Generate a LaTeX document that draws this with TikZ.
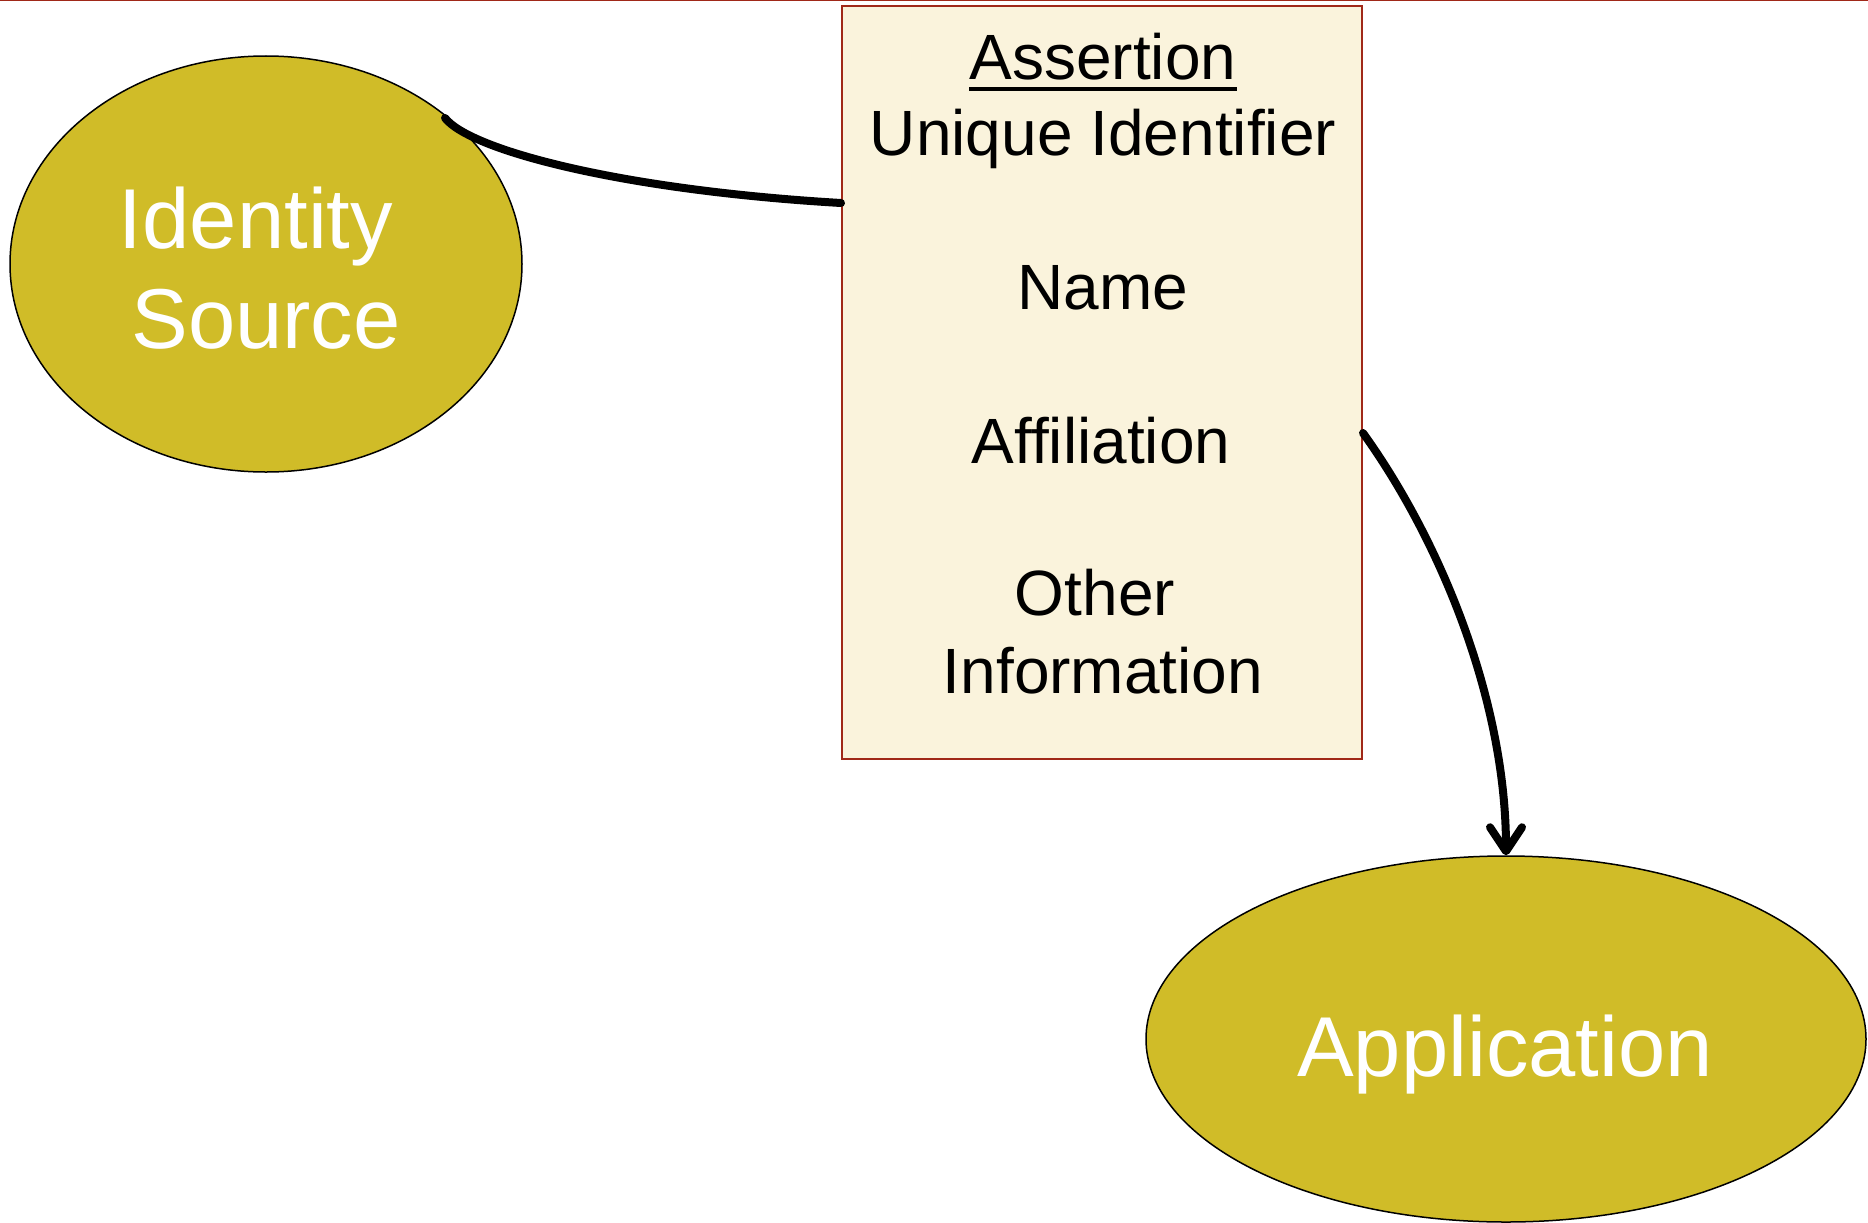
\documentclass[tikz,border=0pt]{standalone}
\usepackage{fontspec}
\setmainfont{Liberation Sans}
\usetikzlibrary{shapes.geometric,arrows.meta}
\definecolor{olivefill}{HTML}{D0BC28}
\definecolor{boxfill}{HTML}{FAF3DC}
\definecolor{boxedge}{HTML}{A02818}
\tikzset{
  oval/.style={ellipse, draw=black, line width=1.5pt, fill=olivefill, inner sep=0pt},
  infobox/.style={rectangle, draw=boxedge, line width=2pt, fill=boxfill, inner sep=0pt},
  boxtext/.style={anchor=base, inner sep=0pt, font=\fontsize{64}{78}\selectfont, text=black},
  ovaltext/.style={anchor=base, inner sep=0pt, font=\fontsize{85}{100}\selectfont, text=white},
  conn/.style={draw=black, line width=8pt, line cap=round, line join=round},
}
\begin{document}
\begin{tikzpicture}[x=1pt,y=-1pt]
\useasboundingbox (0,0) rectangle (1868,1223);
\fill[white] (0,0) rectangle (1868,1223);
\draw[boxedge, line width=1.5pt] (0,0.75) -- (1868,0.75);

% shapes
\node[oval, minimum width=512pt, minimum height=416pt] (src) at (266,264) {};
\node[oval, minimum width=720pt, minimum height=366pt] (app) at (1506,1039) {};
\node[infobox, minimum width=520pt, minimum height=753pt] (box) at (1102,382.5) {};

% texts
\node[ovaltext] (t1) at (256,248) {Identity};
\node[ovaltext] (t2) at (266,348) {Source};
\node[ovaltext] (t3) at (1505,1076) {Application};

\node[boxtext] (asrt) at (1103,80) {Assertion};
\draw[line width=3.5pt] ([yshift=-9pt]asrt.base west) -- ([yshift=-9pt]asrt.base east);
\node[boxtext] (uid) at (1103,155) {Unique Identifier};
\node[boxtext] (nm) at (1103,309) {Name};
\node[boxtext] (aff) at (1101,463) {Affiliation};
\node[boxtext] (oth) at (1095,615) {Other};
\node[boxtext] (inf) at (1103,693) {Information};

% connectors
\coordinate (srcend) at (445,118);
\draw[conn] ([yshift=179.5pt]box.west) .. controls (620,190) and (470,150) .. (srcend);
\draw[conn, -{Straight Barb[length=24pt,width=32pt,line cap=round,line join=round]}]
  ([yshift=-50.5pt]box.east) .. controls (1440,540) and (1506,700) .. (app.north);
\end{tikzpicture}
\end{document}
